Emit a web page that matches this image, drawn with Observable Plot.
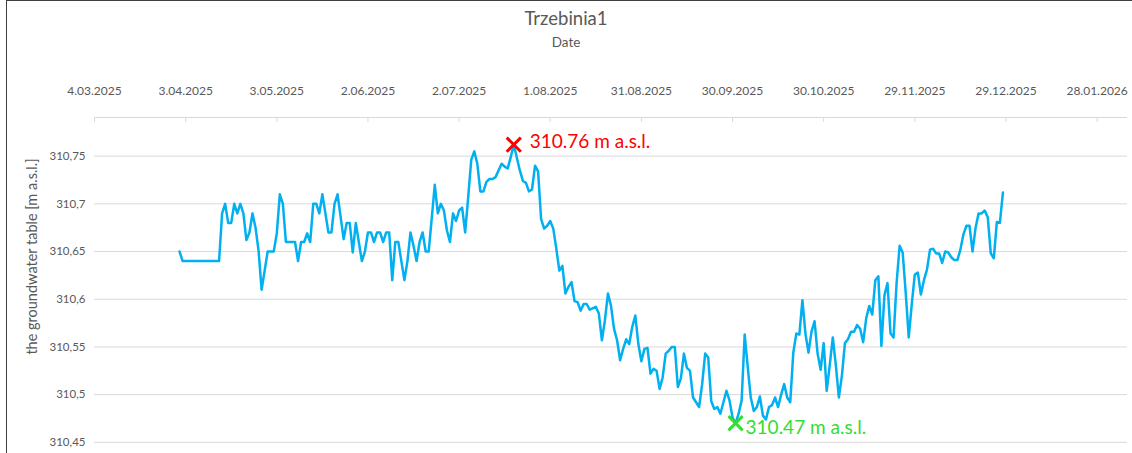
<!DOCTYPE html>
<html><head><meta charset="utf-8">
<script src="https://cdn.jsdelivr.net/npm/d3@7"></script>
<script src="https://cdn.jsdelivr.net/npm/@observablehq/plot@0.6"></script>
<style>
html,body{margin:0;padding:0;background:#fff;overflow:hidden;}
#wrap{position:relative;width:1132px;height:453px;overflow:hidden;font-family:Lato,sans-serif;color:#595959;}
#head{height:60px;position:relative;}
#title{position:absolute;left:0;width:1132px;top:6px;text-align:center;font-size:18.5px;line-height:24px;}
#sub{position:absolute;left:0;width:1132px;top:33px;text-align:center;font-size:13.5px;line-height:18px;}
#border{position:absolute;left:6px;top:0;width:1200px;height:600px;border-left:1px solid #404040;border-top:1px solid #404040;pointer-events:none;}
</style></head>
<body>
<div id="wrap">
  <div id="head"><div id="title"></div><div id="sub"></div></div>
  <div id="chart"></div>
  <div id="border"></div>
</div>
<script>
const chartTitle = "Trzebinia1";
const xTitle = "Date";
const yTitle = "the groundwater table [m a.s.l.]";

const dates = [
"2025-04-01","2025-04-02","2025-04-14","2025-04-15","2025-04-16","2025-04-17","2025-04-18","2025-04-19","2025-04-20","2025-04-21",
"2025-04-22","2025-04-23","2025-04-24","2025-04-25","2025-04-26","2025-04-27","2025-04-28","2025-04-29","2025-04-30","2025-05-02",
"2025-05-03","2025-05-04","2025-05-05","2025-05-06","2025-05-09","2025-05-10","2025-05-11","2025-05-12","2025-05-13","2025-05-14",
"2025-05-15","2025-05-16","2025-05-17","2025-05-18","2025-05-19","2025-05-20","2025-05-21","2025-05-22","2025-05-23","2025-05-25",
"2025-05-26","2025-05-27","2025-05-28","2025-05-29","2025-05-30","2025-05-31","2025-06-01","2025-06-02","2025-06-03","2025-06-04",
"2025-06-05","2025-06-06","2025-06-07","2025-06-08","2025-06-09","2025-06-10","2025-06-11","2025-06-12","2025-06-13","2025-06-14",
"2025-06-15","2025-06-16","2025-06-17","2025-06-18","2025-06-19","2025-06-20","2025-06-21","2025-06-22","2025-06-24","2025-06-25",
"2025-06-26","2025-06-27","2025-06-28","2025-06-29","2025-06-30","2025-07-01","2025-07-02","2025-07-03","2025-07-04","2025-07-05",
"2025-07-06","2025-07-07","2025-07-08","2025-07-09","2025-07-10","2025-07-11","2025-07-12","2025-07-13","2025-07-14","2025-07-16",
"2025-07-17","2025-07-18","2025-07-19","2025-07-20","2025-07-22","2025-07-23","2025-07-24","2025-07-25","2025-07-26","2025-07-27",
"2025-07-28","2025-07-29","2025-07-30","2025-07-31","2025-08-01","2025-08-02","2025-08-03","2025-08-04","2025-08-05","2025-08-06",
"2025-08-07","2025-08-08","2025-08-09","2025-08-10","2025-08-11","2025-08-12","2025-08-13","2025-08-14","2025-08-16","2025-08-17",
"2025-08-18","2025-08-19","2025-08-20","2025-08-21","2025-08-22","2025-08-23","2025-08-24","2025-08-25","2025-08-26","2025-08-27",
"2025-08-28","2025-08-29","2025-08-30","2025-08-31","2025-09-01","2025-09-02","2025-09-03","2025-09-04","2025-09-05","2025-09-06",
"2025-09-07","2025-09-08","2025-09-09","2025-09-10","2025-09-11","2025-09-12","2025-09-13","2025-09-14","2025-09-15","2025-09-16",
"2025-09-17","2025-09-19","2025-09-20","2025-09-21","2025-09-22","2025-09-23","2025-09-24","2025-09-25","2025-09-26","2025-09-27",
"2025-09-28","2025-09-29","2025-09-30","2025-10-01","2025-10-02","2025-10-03","2025-10-04","2025-10-05","2025-10-06","2025-10-07",
"2025-10-08","2025-10-09","2025-10-10","2025-10-11","2025-10-12","2025-10-13","2025-10-14","2025-10-15","2025-10-16","2025-10-17",
"2025-10-18","2025-10-19","2025-10-20","2025-10-21","2025-10-22","2025-10-23","2025-10-24","2025-10-25","2025-10-26","2025-10-27",
"2025-10-28","2025-10-29","2025-10-30","2025-10-31","2025-11-01","2025-11-02","2025-11-03","2025-11-04","2025-11-05","2025-11-06",
"2025-11-07","2025-11-08","2025-11-09","2025-11-10","2025-11-11","2025-11-12","2025-11-13","2025-11-14","2025-11-15","2025-11-16",
"2025-11-17","2025-11-18","2025-11-19","2025-11-20","2025-11-21","2025-11-22","2025-11-23","2025-11-24","2025-11-25","2025-11-26",
"2025-11-27","2025-11-28","2025-11-29","2025-11-30","2025-12-01","2025-12-02","2025-12-03","2025-12-04","2025-12-05","2025-12-06",
"2025-12-07","2025-12-08","2025-12-09","2025-12-10","2025-12-11","2025-12-12","2025-12-13","2025-12-14","2025-12-15","2025-12-16",
"2025-12-17","2025-12-18","2025-12-19","2025-12-20","2025-12-21","2025-12-22","2025-12-23","2025-12-24","2025-12-25","2025-12-26",
"2025-12-27","2025-12-28"
];
const levels = [
310.650,310.640,310.640,310.690,310.700,310.680,310.680,310.700,310.690,310.700,
310.690,310.662,310.670,310.690,310.675,310.651,310.610,310.630,310.650,310.650,
310.669,310.710,310.700,310.660,310.660,310.640,310.660,310.660,310.669,310.660,
310.700,310.700,310.690,310.710,310.690,310.670,310.670,310.700,310.710,310.663,
310.680,310.680,310.649,310.680,310.660,310.640,310.650,310.670,310.670,310.660,
310.670,310.670,310.660,310.670,310.670,310.620,310.660,310.660,310.640,310.620,
310.640,310.670,310.656,310.640,310.660,310.670,310.650,310.650,310.720,310.690,
310.700,310.693,310.672,310.660,310.690,310.682,310.693,310.696,310.670,310.707,
310.746,310.755,310.742,310.713,310.713,310.723,310.726,310.726,310.728,310.742,
310.739,310.737,310.749,310.762,310.735,310.724,310.722,310.713,310.715,310.740,
310.734,310.684,310.674,310.677,310.682,310.674,310.653,310.630,310.635,310.606,
310.613,310.618,310.598,310.597,310.588,310.595,310.595,310.589,310.592,310.585,
310.557,310.578,310.606,310.593,310.569,310.557,310.536,310.548,310.558,310.553,
310.571,310.583,310.553,310.535,310.548,310.549,310.522,310.527,310.525,310.506,
310.518,310.543,310.546,310.550,310.550,310.508,310.517,310.543,310.528,310.525,
310.497,310.487,310.511,310.543,310.539,310.493,310.485,310.487,310.480,310.492,
310.504,310.494,310.476,310.470,310.480,310.494,310.563,310.529,310.497,310.483,
310.487,310.498,310.478,310.474,310.487,310.489,310.497,310.487,310.500,310.511,
310.497,310.492,310.544,310.564,310.563,310.599,310.564,310.544,310.566,310.577,
310.543,310.526,310.554,310.504,310.531,310.560,310.531,310.497,310.520,310.554,
310.558,310.566,310.566,310.573,310.569,310.555,310.580,310.593,310.584,310.620,
310.624,310.551,310.604,310.617,310.564,310.560,310.617,310.656,310.649,310.607,
310.560,310.595,310.626,310.628,310.605,310.620,310.631,310.652,310.653,310.648,
310.648,310.638,310.650,310.649,310.644,310.641,310.641,310.652,310.668,310.677,
310.677,310.650,310.675,310.690,310.690,310.693,310.686,310.648,310.643,310.681,
310.680,310.712
];

const xTickDates = ["2025-03-04","2025-04-03","2025-05-03","2025-06-02","2025-07-02","2025-08-01",
  "2025-08-31","2025-09-30","2025-10-30","2025-11-29","2025-12-29","2026-01-28"];
const xTickLabels = ["4.03.2025","3.04.2025","3.05.2025","2.06.2025","2.07.2025","1.08.2025",
  "31.08.2025","30.09.2025","30.10.2025","29.11.2025","29.12.2025","28.01.2026"];
const yTicks = [310.45, 310.5, 310.55, 310.6, 310.65, 310.7, 310.75];
const yTickLabels = ["310,45","310,5","310,55","310,6","310,65","310,7","310,75"];
const xDomain = ["2025-03-04","2026-02-07"];
const yDomain = [310.4383, 310.7905];

const data = dates.map((d, i) => ({date: new Date(d), level: levels[i]}));
const tickD = xTickDates.map(d => new Date(d));
const maxPt = data.reduce((a, b) => b.level > a.level ? b : a);
const minPt = data.reduce((a, b) => b.level < a.level ? b : a);
const fmtM = p => `${p.level.toFixed(2)} m a.s.l.`;

document.getElementById("title").textContent = chartTitle;
document.getElementById("sub").textContent = xTitle;

const gray = "#595959";
const chart = Plot.plot({
  width: 1132,
  height: 393,
  marginTop: 57,
  marginBottom: 0,
  marginLeft: 94,
  marginRight: 5,
  style: {fontFamily: "Lato, sans-serif", color: gray, background: "transparent", overflow: "visible"},
  x: {type: "utc", domain: xDomain.map(d => new Date(d))},
  y: {domain: yDomain},
  marks: [
    Plot.gridY(yTicks, {stroke: "#d9d9d9", strokeOpacity: 1}),
    Plot.ruleY([yDomain[1]], {stroke: "#d9d9d9", strokeWidth: 1}),
    Plot.ruleX(tickD, {x: d => d, y1: yDomain[1], y2: yDomain[1] - 5 / 954, stroke: "#d9d9d9"}),
    Plot.axisX({anchor: "top", ticks: tickD, tickSize: 0, tickPadding: 23, fontSize: 12,
      fill: gray, tickFormat: d => xTickLabels[tickD.findIndex(t => +t === +d)], label: null}),
    Plot.axisY({ticks: yTicks, tickSize: 0, tickPadding: 9, fontSize: 11.5, fill: gray,
      tickFormat: d => yTickLabels[yTicks.indexOf(d)], label: null}),
    Plot.text([yTitle], {text: d => d, frameAnchor: "left", textAnchor: "middle", rotate: -90,
      dx: -62, dy: -29, fontSize: 14.5, fill: gray}),
    Plot.line(data, {x: "date", y: "level", stroke: "#00B0F0", strokeWidth: 2.5, curve: "linear"}),
    Plot.dot([maxPt], {x: "date", y: "level", symbol: "times", r: 6.5, stroke: "#FF0000", strokeWidth: 3}),
    Plot.text([maxPt], {x: "date", y: "level", text: fmtM, textAnchor: "start", dx: 16, dy: -3,
      fill: "#FF0000", fontSize: 19}),
    Plot.dot([minPt], {x: "date", y: "level", symbol: "times", r: 6.5, stroke: "#33DD33", strokeWidth: 3}),
    Plot.text([minPt], {x: "date", y: "level", text: fmtM, textAnchor: "start", dx: 10, dy: 5,
      fill: "#33DD33", fontSize: 19})
  ]
});
document.getElementById("chart").appendChild(chart);
</script>
</body></html>
